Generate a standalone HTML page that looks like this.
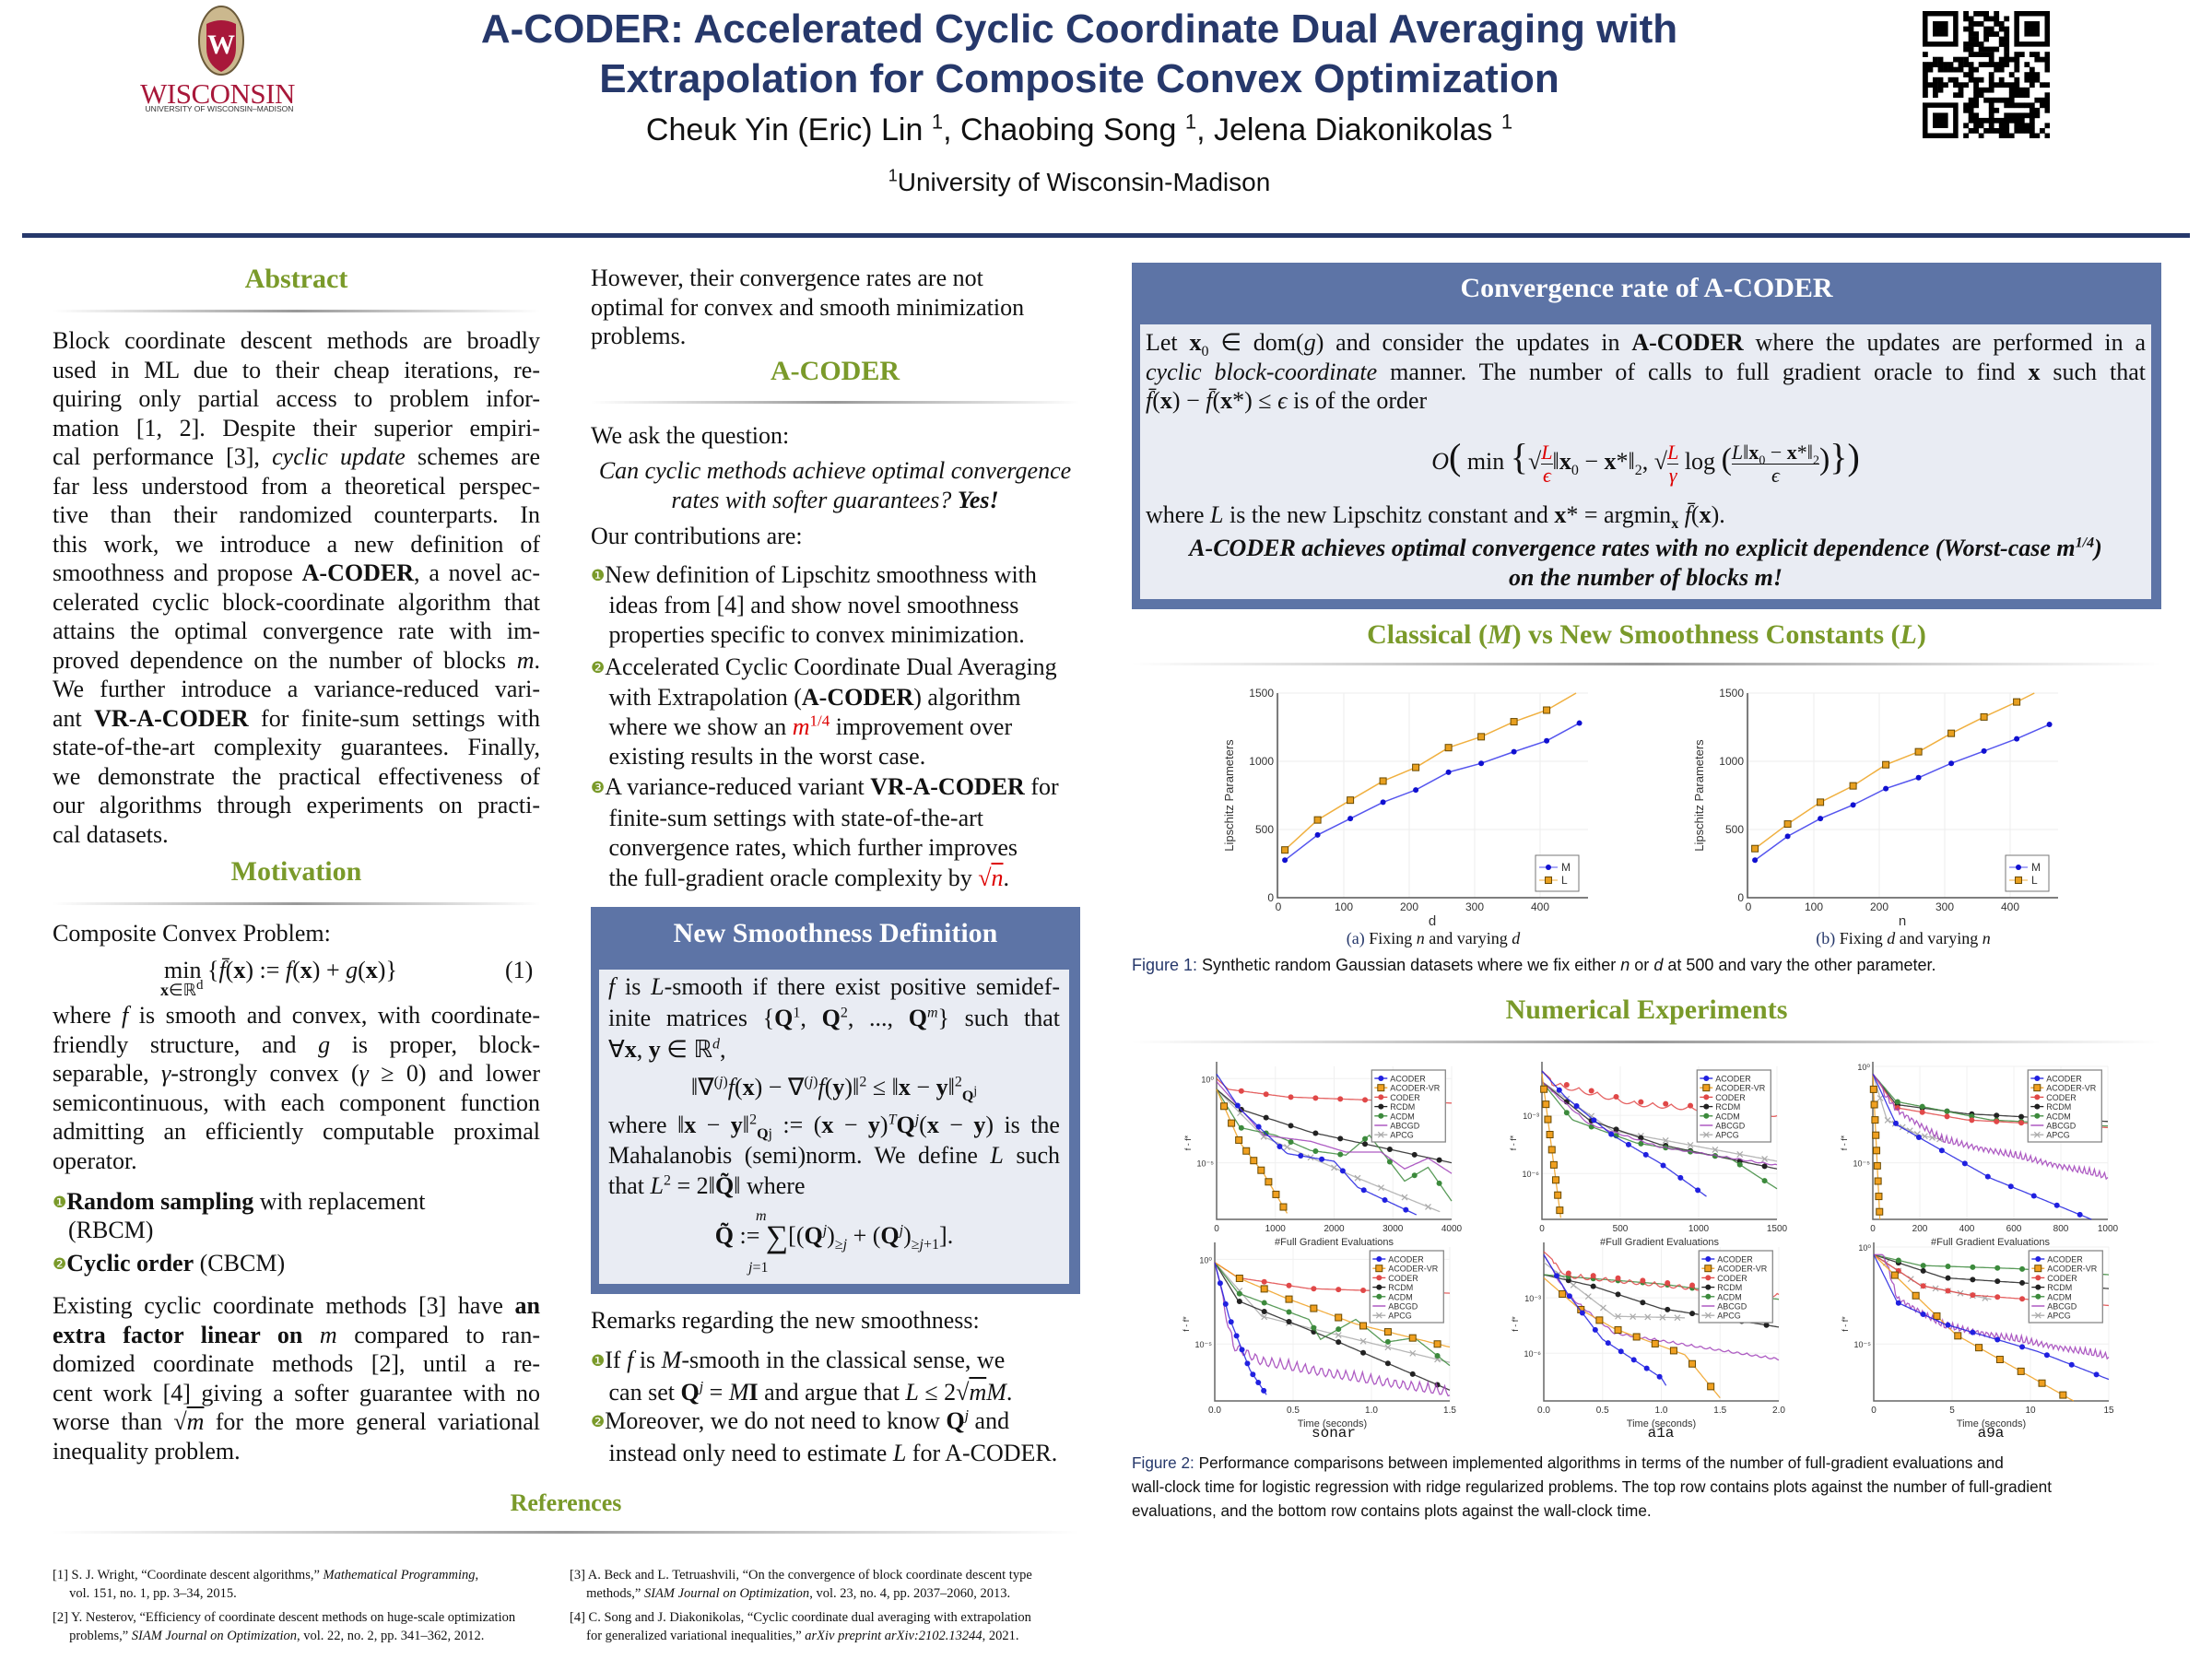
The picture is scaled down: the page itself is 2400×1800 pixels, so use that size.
<!DOCTYPE html>
<html><head><meta charset="utf-8"><style>
*{margin:0;padding:0;box-sizing:border-box}
body{width:2400px;height:1800px;background:#fff;position:relative;overflow:hidden;font-family:"Liberation Serif",serif;color:#111}
sup,sub{line-height:0}
.a{position:absolute}
.t{position:absolute;font-size:26px;line-height:31.5px;white-space:nowrap}
.j{text-align:justify;text-align-last:justify;white-space:normal}
.h{position:absolute;font-family:"Liberation Serif",serif;font-weight:bold;color:#7a9a2a;font-size:30px;text-align:center}
.rule{position:absolute;height:3px;background:linear-gradient(90deg,rgba(150,150,150,0),#999 50%,rgba(150,150,150,0))}
.bl{color:#7a9a2a;font-family:"DejaVu Sans",sans-serif;font-size:17px;vertical-align:2px}
.red{color:#d00}
.ref{position:absolute;font-size:14.5px;line-height:20px;white-space:nowrap}
.sans{font-family:"Liberation Sans",sans-serif}
.fr{display:inline-block;vertical-align:middle;text-align:center;font-size:22px;line-height:24px}
.fr span{display:block}
.fr span:first-child{border-bottom:1.5px solid #111}
</style></head><body>

<svg class="a" style="left:210px;top:4px" width="60" height="80" viewBox="0 0 60 80">
<ellipse cx="30" cy="40" rx="24" ry="37" fill="#cbb88e" stroke="#6b5a3a" stroke-width="2"/>
<path d="M14 22 Q30 14 46 22 L46 48 Q46 66 30 74 Q14 66 14 48 Z" fill="#a8183a"/>
<text x="30" y="54" text-anchor="middle" font-family="Liberation Serif" font-size="30" font-weight="bold" fill="#fff">W</text>
</svg>
<div class="a" style="left:147px;top:84px;width:178px;text-align:center;font-family:'Liberation Serif',serif;font-size:31px;color:#a8183a;letter-spacing:-0.5px">WISCONSIN</div>
<div class="a sans" style="left:150px;top:113px;width:176px;text-align:center;font-size:8.5px;color:#333">UNIVERSITY OF WISCONSIN–MADISON</div>

<div class="a sans" style="left:300px;top:5px;width:1742px;text-align:center;font-size:44px;font-weight:bold;color:#26386b;line-height:54px">A-CODER: Accelerated Cyclic Coordinate Dual Averaging with<br>Extrapolation for Composite Convex Optimization</div>
<div class="a sans" style="left:300px;top:122px;width:1742px;text-align:center;font-size:34px;color:#111">Cheuk Yin (Eric) Lin <sup style="font-size:22px">1</sup>, Chaobing Song <sup style="font-size:22px">1</sup>, Jelena Diakonikolas <sup style="font-size:22px">1</sup></div>
<div class="a sans" style="left:300px;top:182px;width:1742px;text-align:center;font-size:28px;color:#111"><sup style="font-size:18px">1</sup>University of Wisconsin-Madison</div>

<svg id="qr" class="a" style="left:2086px;top:12px" width="138" height="138"></svg>

<div class="a" style="left:24px;top:253px;width:2352px;height:5px;background:#26386b"></div>

<div class="h" style="left:57px;top:286px;width:529px">Abstract</div>
<div class="rule" style="left:57px;top:336px;width:529px"></div>
<div class="t" style="left:57px;top:354px;width:529px">
<div class="j">Block coordinate descent methods are broadly</div>
<div class="j">used in ML due to their cheap iterations, re-</div>
<div class="j">quiring only partial access to problem infor-</div>
<div class="j">mation [1, 2]. Despite their superior empiri-</div>
<div class="j">cal performance [3], <i>cyclic update</i> schemes are</div>
<div class="j">far less understood from a theoretical perspec-</div>
<div class="j">tive than their randomized counterparts. In</div>
<div class="j">this work, we introduce a new definition of</div>
<div class="j">smoothness and propose <b>A-CODER</b>, a novel ac-</div>
<div class="j">celerated cyclic block-coordinate algorithm that</div>
<div class="j">attains the optimal convergence rate with im-</div>
<div class="j">proved dependence on the number of blocks <i>m</i>.</div>
<div class="j">We further introduce a variance-reduced vari-</div>
<div class="j">ant <b>VR-A-CODER</b> for finite-sum settings with</div>
<div class="j">state-of-the-art complexity guarantees. Finally,</div>
<div class="j">we demonstrate the practical effectiveness of</div>
<div class="j">our algorithms through experiments on practi-</div>
<div>cal datasets.</div>
</div>
<div class="h" style="left:57px;top:929px;width:529px">Motivation</div>
<div class="rule" style="left:57px;top:979px;width:529px"></div>
<div class="t" style="left:57px;top:997px">Composite Convex Problem:</div>
<div class="t" style="left:178px;top:1037px">min<span style="font-size:18px;position:absolute;left:-4px;top:22px"><b>x</b>∈ℝ<sup>d</sup></span> {<i>f̄</i>(<b>x</b>) := <i>f</i>(<b>x</b>) + <i>g</i>(<b>x</b>)}</div>
<div class="t" style="left:548px;top:1037px">(1)</div>
<div class="t" style="left:57px;top:1086px;width:529px">
<div class="j">where <i>f</i> is smooth and convex, with coordinate-</div>
<div class="j">friendly structure, and <i>g</i> is proper, block-</div>
<div class="j">separable, <i>γ</i>-strongly convex (<i>γ</i> ≥ 0) and lower</div>
<div class="j">semicontinuous, with each component function</div>
<div class="j">admitting an efficiently computable proximal</div>
<div>operator.</div>
</div>
<div class="t" style="left:57px;top:1288px"><span class="bl">❶</span><b>Random sampling</b> with replacement</div>
<div class="t" style="left:74px;top:1319px">(RBCM)</div>
<div class="t" style="left:57px;top:1355px"><span class="bl">❷</span><b>Cyclic order</b> (CBCM)</div>
<div class="t" style="left:57px;top:1401px;width:529px">
<div class="j">Existing cyclic coordinate methods [3] have <b>an</b></div>
<div class="j"><b>extra factor linear on</b> <i>m</i> compared to ran-</div>
<div class="j">domized coordinate methods [2], until a re-</div>
<div class="j">cent work [4] giving a softer guarantee with no</div>
<div class="j">worse than √<span style="text-decoration:overline"><i>m</i></span> for the more general variational</div>
<div>inequality problem.</div>
</div>

<div class="t" style="left:641px;top:286px">However, their convergence rates are not<br>optimal for convex and smooth minimization<br>problems.</div>
<div class="h" style="left:641px;top:386px;width:530px">A-CODER</div>
<div class="rule" style="left:641px;top:435px;width:530px"></div>
<div class="t" style="left:641px;top:457px">We ask the question:</div>
<div class="t" style="left:641px;top:495px;width:530px;text-align:center;font-style:italic;line-height:32px">Can cyclic methods achieve optimal convergence<br>rates with softer guarantees? <b>Yes!</b></div>
<div class="t" style="left:641px;top:566px">Our contributions are:</div>
<div class="t" style="left:641px;top:608px;line-height:32px"><span class="bl">❶</span>New definition of Lipschitz smoothness with<br>&nbsp;&nbsp;&nbsp;ideas from [4] and show novel smoothness<br>&nbsp;&nbsp;&nbsp;properties specific to convex minimization.</div>
<div class="t" style="left:641px;top:708px;line-height:32px"><span class="bl">❷</span>Accelerated Cyclic Coordinate Dual Averaging<br>&nbsp;&nbsp;&nbsp;with Extrapolation (<b>A-CODER</b>) algorithm<br>&nbsp;&nbsp;&nbsp;where we show an <span class="red"><i>m</i><sup style="font-size:17px">1/4</sup></span> improvement over<br>&nbsp;&nbsp;&nbsp;existing results in the worst case.</div>
<div class="t" style="left:641px;top:838px;line-height:32.5px"><span class="bl">❸</span>A variance-reduced variant <b>VR-A-CODER</b> for<br>&nbsp;&nbsp;&nbsp;finite-sum settings with state-of-the-art<br>&nbsp;&nbsp;&nbsp;convergence rates, which further improves<br>&nbsp;&nbsp;&nbsp;the full-gradient oracle complexity by <span class="red">√<span style="text-decoration:overline"><i>n</i></span></span>.</div>

<div class="a" style="left:641px;top:984px;width:531px;height:420px;background:#5d74a6"></div>
<div class="a" style="left:641px;top:996px;width:531px;text-align:center;color:#fff;font-weight:bold;font-size:30px">New Smoothness Definition</div>
<div class="a" style="left:650px;top:1052px;width:510px;height:341px;background:#e9ecf3"></div>
<div class="t" style="left:660px;top:1054px;width:490px;line-height:34px">
<div class="j"><i>f</i> is <i>L</i>-smooth if there exist positive semidef-</div>
<div class="j">inite matrices {<b>Q</b><sup style="font-size:16px">1</sup>, <b>Q</b><sup style="font-size:16px">2</sup>, ..., <b>Q</b><sup style="font-size:16px"><i>m</i></sup>} such that</div>
<div>∀<b>x</b>, <b>y</b> ∈ ℝ<sup style="font-size:16px"><i>d</i></sup>,</div>
</div>
<div class="t" style="left:650px;top:1164px;width:510px;text-align:center">‖∇<sup style="font-size:16px">(<i>j</i>)</sup><i>f</i>(<b>x</b>) − ∇<sup style="font-size:16px">(<i>j</i>)</sup><i>f</i>(<b>y</b>)‖<sup style="font-size:16px">2</sup> ≤ ‖<b>x</b> − <b>y</b>‖<sup style="font-size:16px">2</sup><sub style="font-size:16px"><b>Q</b><sup>j</sup></sub></div>
<div class="t" style="left:660px;top:1204px;width:490px;line-height:33px">
<div class="j">where ‖<b>x</b> − <b>y</b>‖<sup style="font-size:16px">2</sup><sub style="font-size:16px"><b>Q</b>j</sub> := (<b>x</b> − <b>y</b>)<sup style="font-size:16px"><i>T</i></sup><b>Q</b><sup style="font-size:16px"><i>j</i></sup>(<b>x</b> − <b>y</b>) is the</div>
<div class="j">Mahalanobis (semi)norm. We define <i>L</i> such</div>
<div>that <i>L</i><sup style="font-size:16px">2</sup> = 2‖<b>Q̃</b>‖ where</div>
</div>
<div class="t" style="left:650px;top:1325px;width:510px;text-align:center"><b>Q̃</b> := <span style="font-size:34px;vertical-align:-4px">∑</span>[(<b>Q</b><sup style="font-size:16px"><i>j</i></sup>)<sub style="font-size:16px">≥<i>j</i></sub> + (<b>Q</b><sup style="font-size:16px"><i>j</i></sup>)<sub style="font-size:16px">≥<i>j</i>+1</sub>].</div>
<div class="a" style="left:820px;top:1312px;font-size:16px;line-height:16px"><i>m</i></div>
<div class="a" style="left:812px;top:1368px;font-size:16px;line-height:16px"><i>j</i>=1</div>

<div class="t" style="left:641px;top:1417px">Remarks regarding the new smoothness:</div>
<div class="t" style="left:641px;top:1459px;line-height:33px"><span class="bl">❶</span>If <i>f</i> is <i>M</i>-smooth in the classical sense, we<br>&nbsp;&nbsp;&nbsp;can set <b>Q</b><sup style="font-size:16px"><i>j</i></sup> = <i>M</i><b>I</b> and argue that <i>L</i> ≤ 2√<span style="text-decoration:overline"><i>m</i></span><i>M</i>.</div>
<div class="t" style="left:641px;top:1525px;line-height:33px"><span class="bl">❷</span>Moreover, we do not need to know <b>Q</b><sup style="font-size:16px"><i>j</i></sup> and<br>&nbsp;&nbsp;&nbsp;instead only need to estimate <i>L</i> for A-CODER.</div>

<div class="h" style="left:57px;top:1616px;width:1114px;font-size:26px">References</div>
<div class="rule" style="left:57px;top:1661px;width:1114px"></div>
<div class="ref" style="left:57px;top:1699px">[1] S. J. Wright, “Coordinate descent algorithms,” <i>Mathematical Programming</i>,<br>&nbsp;&nbsp;&nbsp;&nbsp;&nbsp;vol. 151, no. 1, pp. 3–34, 2015.</div>
<div class="ref" style="left:57px;top:1745px">[2] Y. Nesterov, “Efficiency of coordinate descent methods on huge-scale optimization<br>&nbsp;&nbsp;&nbsp;&nbsp;&nbsp;problems,” <i>SIAM Journal on Optimization</i>, vol. 22, no. 2, pp. 341–362, 2012.</div>
<div class="ref" style="left:618px;top:1699px">[3] A. Beck and L. Tetruashvili, “On the convergence of block coordinate descent type<br>&nbsp;&nbsp;&nbsp;&nbsp;&nbsp;methods,” <i>SIAM Journal on Optimization</i>, vol. 23, no. 4, pp. 2037–2060, 2013.</div>
<div class="ref" style="left:618px;top:1745px">[4] C. Song and J. Diakonikolas, “Cyclic coordinate dual averaging with extrapolation<br>&nbsp;&nbsp;&nbsp;&nbsp;&nbsp;for generalized variational inequalities,” <i>arXiv preprint arXiv:2102.13244</i>, 2021.</div>

<div class="a" style="left:1228px;top:285px;width:1117px;height:376px;background:#5d74a6"></div>
<div class="a" style="left:1228px;top:296px;width:1117px;text-align:center;color:#fff;font-weight:bold;font-size:30px">Convergence rate of A-CODER</div>
<div class="a" style="left:1237px;top:352px;width:1097px;height:298px;background:#e9ecf3"></div>
<div class="t" style="left:1243px;top:356px;width:1085px">
<div class="j">Let <b>x</b><sub style="font-size:16px">0</sub> ∈ dom(<i>g</i>) and consider the updates in <b>A-CODER</b> where the updates are performed in a</div>
<div class="j"><i>cyclic block-coordinate</i> manner. The number of calls to full gradient oracle to find <b>x</b> such that</div>
<div><i>f̄</i>(<b>x</b>) − <i>f̄</i>(<b>x</b>*) ≤ <i>ϵ</i> is of the order</div>
</div>
<div class="t" style="left:1237px;top:468px;width:1097px;text-align:center;line-height:56px"><i>O</i><span style="font-size:40px">(</span> min <span style="font-size:40px">{</span>√<span class="fr red"><span><i>L</i></span><span><i>ϵ</i></span></span>‖<b>x</b><sub style="font-size:16px">0</sub> − <b>x</b>*‖<sub style="font-size:16px">2</sub>, √<span class="fr red"><span><i>L</i></span><span><i>γ</i></span></span> log <span style="font-size:34px">(</span><span class="fr"><span><i>L</i>‖<b>x</b><sub style="font-size:14px">0</sub> − <b>x</b>*‖<sub style="font-size:14px">2</sub></span><span><i>ϵ</i></span></span><span style="font-size:34px">)</span><span style="font-size:40px">}</span><span style="font-size:40px">)</span></div>
<div class="t" style="left:1243px;top:543px">where <i>L</i> is the new Lipschitz constant and <b>x</b>* = argmin<sub style="font-size:16px"><b>x</b></sub> <i>f̄</i>(<b>x</b>).</div>
<div class="t" style="left:1237px;top:579px;width:1097px;text-align:center;font-weight:bold;font-style:italic;line-height:32px">A-CODER achieves optimal convergence rates with no explicit dependence (Worst-case <i>m</i><sup style="font-size:16px">1/4</sup>)<br>on the number of blocks <i>m</i>!</div>

<div class="h" style="left:1228px;top:672px;width:1117px">Classical (<i>M</i>) vs New Smoothness Constants (<i>L</i>)</div>
<div class="rule" style="left:1228px;top:719px;width:1117px"></div>
<div class="a" style="left:1300px;top:1008px;width:510px;text-align:center;font-size:18px"><span style="color:#26386b">(a)</span> Fixing <i>n</i> and varying <i>d</i></div>
<div class="a" style="left:1810px;top:1008px;width:510px;text-align:center;font-size:18px"><span style="color:#26386b">(b)</span> Fixing <i>d</i> and varying <i>n</i></div>
<div class="a sans" style="left:1228px;top:1037px;font-size:18px;white-space:nowrap"><span style="color:#26386b">Figure 1:</span> Synthetic random Gaussian datasets where we fix either <i>n</i> or <i>d</i> at 500 and vary the other parameter.</div>

<div class="h" style="left:1228px;top:1079px;width:1117px">Numerical Experiments</div>
<div class="rule" style="left:1228px;top:1129px;width:1117px"></div>
<div class="a sans" style="left:1228px;top:1574px;font-size:17.2px;line-height:26px;white-space:nowrap"><span style="color:#26386b">Figure 2:</span> Performance comparisons between implemented algorithms in terms of the number of full-gradient evaluations and<br>wall-clock time for logistic regression with ridge regularized problems. The top row contains plots against the number of full-gradient<br>evaluations, and the bottom row contains plots against the wall-clock time.</div>
<div class="a" style="left:1397px;top:1546px;width:100px;text-align:center;font-family:'Liberation Mono',monospace;font-size:16px">sonar</div>
<div class="a" style="left:1752px;top:1546px;width:100px;text-align:center;font-family:'Liberation Mono',monospace;font-size:16px">a1a</div>
<div class="a" style="left:2110px;top:1546px;width:100px;text-align:center;font-family:'Liberation Mono',monospace;font-size:16px">a9a</div>

<svg id="ch" class="a" style="left:0;top:0" width="2400" height="1800"></svg>

<script>
(function(){var s='',n=25,m=138/n,seed=7;function r(){seed=(seed*9301+49297)%233280;return seed/233280;}
for(var i=0;i<n;i++)for(var j=0;j<n;j++){var f=(i<8&&j<8)||(i<8&&j>=n-8)||(i>=n-8&&j<8);if(f)continue;if(r()<0.5)s+='<rect x="'+(j*m).toFixed(1)+'" y="'+(i*m).toFixed(1)+'" width="'+(m+0.3).toFixed(1)+'" height="'+(m+0.3).toFixed(1)+'"/>';}
[[0,0],[0,n-7],[n-7,0]].forEach(function(p){var x=p[1]*m,y=p[0]*m;s+='<rect x="'+(x+m/2)+'" y="'+(y+m/2)+'" width="'+(6*m)+'" height="'+(6*m)+'" fill="none" stroke="#000" stroke-width="'+m+'"/><rect x="'+(x+2*m)+'" y="'+(y+2*m)+'" width="'+(3*m)+'" height="'+(3*m)+'"/>';});
document.getElementById('qr').innerHTML=s;})();

var out='';
function T(x,y,t,sz,anch,extra){out+='<text x="'+x+'" y="'+y+'" font-family="Liberation Sans" font-size="'+sz+'" text-anchor="'+(anch||'middle')+'" fill="#333" '+(extra||'')+'>'+t+'</text>';}
function interp(p,x){for(var i=1;i<p.length;i++){if(x<=p[i][0]){var a=p[i-1],b=p[i],t=(x-a[0])/((b[0]-a[0])||1);return a[1]+t*(b[1]-a[1]);}}return p[p.length-1][1];}
function marker(x,y,c,type){if(type=='sq')out+='<rect x="'+(x-3.5)+'" y="'+(y-3.5)+'" width="7" height="7" fill="'+c+'" stroke="#6a4a00" stroke-width="1"/>';else if(type=='x')out+='<path d="M'+(x-3)+' '+(y-3)+'L'+(x+3)+' '+(y+3)+'M'+(x-3)+' '+(y+3)+'L'+(x+3)+' '+(y-3)+'" stroke="'+c+'" stroke-width="1.2"/>';else out+='<circle cx="'+x+'" cy="'+y+'" r="3" fill="'+c+'"/>';}

function fig1(x0,M,L,Lend,xl){var X=function(d){return x0+1+d*0.71},Y=function(v){return 974-v*222/1500};
 for(var d=0;d<=400;d+=100){out+='<line x1="'+X(d)+'" y1="752" x2="'+X(d)+'" y2="974" stroke="#eee"/>';T(X(d),988,d,12);}
 [0,500,1000,1500].forEach(function(v){out+='<line x1="'+x0+'" y1="'+Y(v)+'" x2="'+(x0+337)+'" y2="'+Y(v)+'" stroke="#eee"/>';T(x0-4,Y(v)+4,v,12,'end');});
 out+='<path d="M'+x0+' 752V974H'+(x0+337)+'" fill="none" stroke="#555" stroke-width="1.5"/>';
 var pm='',pl='';for(var i=0;i<10;i++){var d=10+50*i;pm+=(i?'L':'M')+X(d)+' '+Y(M[i]);}for(i=0;i<9;i++){pl+=(i?'L':'M')+X(10+50*i)+' '+Y(L[i]);}pl+='L'+X(Lend)+' '+Y(1500);
 out+='<path d="'+pl+'" fill="none" stroke="#f0b040" stroke-width="1.5"/><path d="'+pm+'" fill="none" stroke="#5555ee" stroke-width="1.5"/>';
 for(i=0;i<10;i++)marker(X(10+50*i),Y(M[i]),'#1010d0');for(i=0;i<9;i++)marker(X(10+50*i),Y(L[i]),'#e8a020','sq');
 T(x0-48,863,'Lipschitz Parameters',13,'middle','transform="rotate(-90 '+(x0-48)+' 863)"');T(x0+168,1004,xl,15);
 var lx=x0+280,ly=928;out+='<rect x="'+lx+'" y="'+ly+'" width="47" height="39" fill="#fff" stroke="#777"/>';
 out+='<line x1="'+(lx+4)+'" y1="'+(ly+13)+'" x2="'+(lx+24)+'" y2="'+(ly+13)+'" stroke="#55e"/>';marker(lx+14,ly+13,'#1010d0');T(lx+28,ly+17,'M',12,'start');
 out+='<line x1="'+(lx+4)+'" y1="'+(ly+27)+'" x2="'+(lx+24)+'" y2="'+(ly+27)+'" stroke="#f0b040"/>';marker(lx+14,ly+27,'#e8a020','sq');T(lx+28,ly+31,'L',12,'start');}
fig1(1386,[275,460,580,700,790,920,985,1070,1150,1280],[350,570,715,855,955,1100,1180,1290,1375],455,'d');
fig1(1896,[275,450,580,680,800,880,985,1075,1165,1270],[360,540,700,820,975,1070,1205,1325,1435],437,'n');

var C={A:['#2020e0','o'],V:['#f0a020','sq'],C:['#e04848','o'],R:['#222','o'],D:['#3c8a3c','o'],B:['#a040b8','n'],P:['#aaa','x']};
var names=[['A','ACODER'],['V','ACODER-VR'],['C','CODER'],['R','RCDM'],['D','ACDM'],['B','ABCGD'],['P','APCG']];
function fig2(x0,y0,w,h,ser,ticks,xl,yt){
 ticks.forEach(function(t,i){var x=x0+w*i/(ticks.length-1);out+='<line x1="'+x+'" y1="'+y0+'" x2="'+x+'" y2="'+(y0+h)+'" stroke="#f0f0f0"/>';T(x,y0+h+13,t,10);});
 yt.forEach(function(t){var y=y0+h*t[0];out+='<line x1="'+x0+'" y1="'+y+'" x2="'+(x0+w)+'" y2="'+y+'" stroke="#f0f0f0"/>';T(x0-3,y+4,t[1],9,'end');});
 out+='<path d="M'+x0+' '+(y0-5)+'V'+(y0+h)+'H'+(x0+w)+'" fill="none" stroke="#666" stroke-width="1.5"/>';
 T(x0-28,y0+h/2,'f - f*',9,'middle','transform="rotate(-90 '+(x0-28)+' '+(y0+h/2)+')"');T(x0+w/2,y0+h+28,xl,11);
 ['P','R','D','C','B','V','A'].forEach(function(k){var s=ser[k];if(!s)return;var p=s.p,wv=s.w||0,xe=p[p.length-1][0],d='',N=140;
  for(var i=0;i<=N;i++){var fx=p[0][0]+(xe-p[0][0])*i/N,fy=interp(p,fx)+(i>5?wv*Math.abs(Math.sin(fx*(s.f||60))):0);fy=Math.min(fy,1);d+=(i?'L':'M')+(x0+fx*w).toFixed(1)+' '+(y0+fy*h).toFixed(1);}
  out+='<path d="'+d+'" fill="none" stroke="'+C[k][0]+'" stroke-width="1.3" opacity="0.85"/>';
  if(C[k][1]!='n')for(var m=1;m<=9;m++){var fx=p[0][0]+(xe-p[0][0])*m/9.5;var fy=interp(p,fx);if(fy<=1)marker(x0+fx*w,y0+fy*h,C[k][0],C[k][1]);}});
 var lx=x0+w*0.66,ly=y0+4;out+='<rect x="'+lx+'" y="'+ly+'" width="80" height="78" fill="#fff" stroke="#888" stroke-width="1.3"/>';
 names.forEach(function(n,i){var yy=ly+9+i*10.2;out+='<line x1="'+(lx+3)+'" y1="'+yy+'" x2="'+(lx+17)+'" y2="'+yy+'" stroke="'+C[n[0]][0]+'" stroke-width="1.3"/>';if(C[n[0]][1]!='n')marker(lx+10,yy,C[n[0]][0],C[n[0]][1]);T(lx+20,yy+3.5,n[1],9,'start');});}
var yt1=[[0.08,'10⁰'],[0.63,'10⁻⁵']];
fig2(1320,1157,255,166,{C:{p:[[0,0.08],[0.05,0.15],[0.3,0.2],[1,0.24]]},R:{p:[[0,0.15],[0.1,0.28],[0.4,0.43],[1,0.63]]},A:{p:[[0,0.05],[0.1,0.28],[0.3,0.57],[0.5,0.62],[0.6,0.79],[0.85,0.97]]},V:{p:[[0,0.15],[0.1,0.5],[0.2,0.7],[0.3,0.96]]},D:{p:[[0,0.15],[0.1,0.4],[0.25,0.45],[0.4,0.55],[0.55,0.58],[0.65,0.45],[0.8,0.75],[0.9,0.66],[1,0.88]]},B:{p:[[0,0.1],[0.2,0.45],[0.4,0.49],[0.55,0.56],[0.7,0.56],[0.8,0.67],[0.9,0.6],[1,0.7]]},P:{p:[[0,0.15],[0.2,0.46],[0.6,0.73],[0.95,0.95]]}},[0,1000,2000,3000,4000],'#Full Gradient Evaluations',yt1);
fig2(1673,1157,255,166,{C:{p:[[0,0.03],[0.05,0.1],[0.4,0.23],[1,0.3]],w:0.03,f:40},A:{p:[[0,0.03],[0.1,0.2],[0.3,0.45],[0.5,0.63],[0.7,0.85],[0.7,0.93]]},V:{p:[[0,0.05],[0.08,0.99]]},R:{p:[[0,0.1],[0.2,0.35],[0.5,0.51],[1,0.67]]},D:{p:[[0,0.1],[0.13,0.35],[0.4,0.5],[0.8,0.6],[1,0.8]]},B:{p:[[0,0.1],[0.2,0.37],[0.5,0.52],[1,0.64]],w:0.01},P:{p:[[0,0.1],[0.3,0.42],[1,0.62]]}},[0,500,1000,1500],'#Full Gradient Evaluations',[[0.32,'10⁻³'],[0.7,'10⁻⁶']]);
fig2(2032,1157,255,166,{R:{p:[[0,0.05],[0.1,0.25],[0.4,0.31],[1,0.36]]},D:{p:[[0,0.05],[0.1,0.23],[0.5,0.35],[1,0.39]]},C:{p:[[0,0.05],[0.1,0.27],[0.4,0.35],[1,0.4]]},A:{p:[[0,0.05],[0.1,0.38],[0.5,0.73],[0.93,1]]},V:{p:[[0,0.05],[0.03,1]]},B:{p:[[0,0.05],[0.1,0.25],[0.3,0.45],[0.6,0.55],[1,0.69]],w:0.05,f:150},P:{p:[[0,0.05],[0.06,0.35],[0.2,0.45],[0.3,0.48]]}},[0,200,400,600,800,1000],'#Full Gradient Evaluations',[[0,'10⁰'],[0.63,'10⁻⁵']]);
fig2(1318,1353,255,167,{C:{p:[[0,0.1],[0.1,0.2],[0.4,0.27],[1,0.3]]},V:{p:[[0,0.1],[0.1,0.2],[0.3,0.33],[0.6,0.5],[1,0.65]]},R:{p:[[0,0.1],[0.1,0.35],[0.5,0.6],[1,0.93]]},D:{p:[[0,0.1],[0.1,0.3],[0.4,0.47],[0.45,0.6],[0.6,0.47],[0.72,0.62],[0.85,0.59],[1,0.77]]},B:{p:[[0,0.1],[0.08,0.6],[0.2,0.7],[0.5,0.78],[1,0.9]],w:0.07,f:90},A:{p:[[0,0.1],[0.06,0.45],[0.15,0.8],[0.22,0.96]]},P:{p:[[0,0.1],[0.2,0.45],[1,0.75]]}},['0.0','0.5','1.0','1.5'],'Time (seconds)',[[0.08,'10⁰'],[0.63,'10⁻⁵']]);
fig2(1675,1353,255,167,{C:{p:[[0,0.03],[0.1,0.17],[0.5,0.23],[1,0.3]],w:0.03,f:60},D:{p:[[0,0.18],[0.5,0.24],[1,0.34]]},R:{p:[[0,0.18],[0.2,0.25],[0.5,0.4],[1,0.52]]},V:{p:[[0,0.2],[0.15,0.4],[0.3,0.53],[0.6,0.7],[0.75,0.98]]},A:{p:[[0,0.05],[0.1,0.3],[0.25,0.6],[0.5,0.85],[0.52,0.9]]},B:{p:[[0,0.05],[0.1,0.3],[0.3,0.55],[0.5,0.6],[0.7,0.65],[1,0.72]],w:0.015,f:80},P:{p:[[0,0.1],[0.3,0.45],[0.6,0.46]]}},['0.0','0.5','1.0','1.5','2.0'],'Time (seconds)',[[0.33,'10⁻³'],[0.69,'10⁻⁶']]);
fig2(2033,1353,255,167,{D:{p:[[0,0.05],[0.2,0.12],[0.6,0.14],[1,0.18]]},R:{p:[[0,0.05],[0.3,0.2],[1,0.27]]},C:{p:[[0,0.05],[0.2,0.25],[0.4,0.31],[1,0.38]]},P:{p:[[0,0.05],[0.2,0.25],[0.5,0.34]]},A:{p:[[0,0.05],[0.1,0.36],[0.3,0.5],[0.7,0.68],[1,0.86]]},V:{p:[[0,0.05],[0.35,0.57],[0.85,1]]},B:{p:[[0,0.05],[0.05,0.05],[0.1,0.3],[0.3,0.48],[1,0.68]],w:0.05,f:150}},[0,5,10,15],'Time (seconds)',[[0,'10⁰'],[0.63,'10⁻⁵']]);
document.getElementById('ch').innerHTML=out;
</script>
</body></html>
